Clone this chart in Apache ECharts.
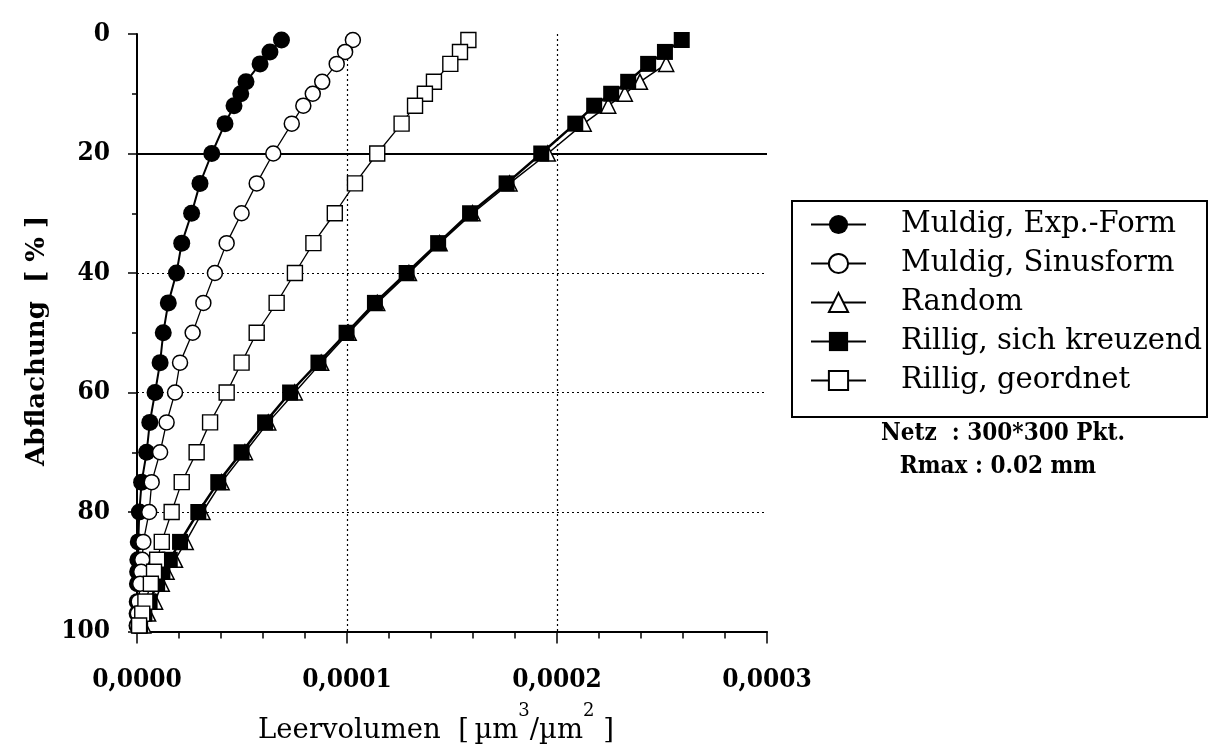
<!DOCTYPE html>
<html>
<head>
<meta charset="utf-8">
<script src="https://cdn.jsdelivr.net/npm/echarts@6/dist/echarts.min.js"></script>
<style>
html,body{margin:0;padding:0;background:#fff;}
#chart{width:1208px;height:750px;}
</style>
</head>
<body>
<div id="chart"></div>
<script>
// Abflachung levels [%]
const levels = [1,3,5,8,10,12,15,20,25,30,35,40,45,50,55,60,65,70,75,80,85,88,90,92,95,97,99];
const randomLevels = [5,8,10,12,15,20,25,30,35,40,45,50,55,60,65,70,75,80,85,88,90,92,95,97,99];
// Leervolumen values in units of 1e-5 um^3/um^2
const UNIT = 1e-5;
const muldigExp   = [6.88,6.33,5.86,5.19,4.94,4.62,4.19,3.56,3.0,2.6,2.13,1.88,1.49,1.25,1.1,0.86,0.61,0.46,0.22,0.11,0.06,0.04,0.03,0.02,0.01,0.005,0];
const muldigSinus = [10.28,9.91,9.51,8.82,8.37,7.92,7.37,6.49,5.7,4.98,4.27,3.71,3.16,2.65,2.05,1.81,1.41,1.1,0.7,0.58,0.3,0.25,0.2,0.15,0.08,0.04,0.01];
const randomVals  = [25.2,23.95,23.23,22.44,21.27,19.56,17.74,15.98,14.41,12.95,11.44,10.08,8.77,7.51,6.25,5.14,4.03,3.12,2.32,1.81,1.41,1.18,0.86,0.53,0.3];
const rilligKreuz = [25.94,25.14,24.34,23.39,22.58,21.77,20.87,19.25,17.6,15.86,14.34,12.84,11.33,9.98,8.64,7.29,6.1,4.98,3.87,2.92,2.05,1.56,1.21,0.96,0.6,0.35,0.15];
const rilligGeord = [15.78,15.38,14.92,14.14,13.71,13.24,12.6,11.44,10.38,9.42,8.4,7.52,6.65,5.7,4.98,4.27,3.48,2.84,2.13,1.65,1.18,0.96,0.81,0.66,0.4,0.25,0.1];

const seriesNames = ['Muldig, Exp.-Form','Muldig, Sinusform','Random','Rillig, sich kreuzend','Rillig, geordnet'];
const xTickLabels = ['0,0000','0,0001','0,0002','0,0003'];
const yTickLabels = ['0','20','40','60','80','100'];
const noteLines = ['Netz  : 300*300 Pkt.','Rmax : 0.02 mm'];

const SERIF = '"DejaVu Serif", "Liberation Serif", serif';
const SERIF_C = '"DejaVu Serif Condensed", "DejaVu Serif", serif';

function pairs(vals, lv){ return vals.map((v,i)=>[v*UNIT, lv[i]]); }

const chart = echarts.init(document.getElementById('chart'), null, {renderer:'canvas'});

const option = {
  animation:false,
  backgroundColor:'#fff',
  grid:{left:137, top:34, right:441, bottom:116, containLabel:false},
  xAxis:{
    type:'value', min:0, max:0.0003, interval:0.0001,
    axisLine:{show:true, onZero:false, lineStyle:{color:'#000', width:2}},
    axisTick:{show:true, length:12, lineStyle:{color:'#000', width:1.5}},
    minorTick:{show:true, splitNumber:5, length:7, lineStyle:{color:'#000', width:1.5}},
    splitLine:{show:true, showMinLine:false, showMaxLine:false, lineStyle:{color:'#000', width:1.2, type:[2,3]}},
    axisLabel:{margin:36, color:'#000', fontFamily:SERIF_C, fontWeight:'bold', fontSize:26,
      formatter:(v)=>xTickLabels[Math.round(v/0.0001)]},
    name:'{m|Leervolumen  [\u2009µm}{s|3}{m|/µm}{s|2}{m| ]}',
    nameLocation:'middle', nameGap:71,
    nameTextStyle:{padding:[0,32,0,0], rich:{
      m:{fontFamily:SERIF, fontSize:27.5, color:'#000', lineHeight:57},
      s:{fontFamily:SERIF, fontSize:18, color:'#000', verticalAlign:'top'}
    }}
  },
  yAxis:{
    type:'value', min:0, max:100, interval:20, inverse:true,
    axisLine:{show:true, onZero:false, lineStyle:{color:'#000', width:2}},
    axisTick:{show:true, length:9, lineStyle:{color:'#000', width:1.5}},
    minorTick:{show:true, splitNumber:2, length:5, lineStyle:{color:'#000', width:1.5}},
    splitLine:{show:true, showMinLine:false, showMaxLine:false, lineStyle:{color:'#000', width:1.2, type:[2,3]}},
    axisLabel:{margin:27, color:'#000', fontFamily:SERIF_C, fontWeight:'bold', fontSize:26,
      formatter:(v)=>yTickLabels[Math.round(v/20)]},
    name:'Abflachung  [ % ]', nameLocation:'middle', nameGap:78,
    nameTextStyle:{fontFamily:SERIF, fontWeight:'bold', fontSize:26, color:'#000', padding:[0,16,0,0]}
  },
  legend:{
    orient:'vertical', left:810, top:210, padding:0, itemGap:10,
    itemWidth:55, itemHeight:24, selectedMode:false,
    textStyle:{fontFamily:SERIF, fontSize:29, color:'#000', padding:[0,0,0,30]},
    data:seriesNames
  },
  graphic:[
    {type:'rect', shape:{x:792, y:201, width:415, height:216}, style:{fill:'none', stroke:'#000', lineWidth:2}, silent:true, z:10},
    {type:'text', style:{text:noteLines[0], x:1003, y:434, align:'center', verticalAlign:'middle', font:'bold 24px '+SERIF_C, fill:'#000'}, silent:true},
    {type:'text', style:{text:noteLines[1], x:998, y:467, align:'center', verticalAlign:'middle', font:'bold 24px '+SERIF_C, fill:'#000'}, silent:true}
  ],
  series:[
    {name:seriesNames[0], type:'line', data:pairs(muldigExp, levels), clip:false,
     symbol:'circle', symbolSize:17, itemStyle:{color:'#000'}, lineStyle:{color:'#000', width:2},
     markLine:{silent:true, z:1, symbol:['none','none'], label:{show:false},
       lineStyle:{color:'#000', type:'solid', width:1.8}, data:[{yAxis:20}], emphasis:{disabled:true}}},
    {name:seriesNames[1], type:'line', data:pairs(muldigSinus, levels), clip:false,
     symbol:'circle', symbolSize:15, itemStyle:{color:'#fff', borderColor:'#000', borderWidth:1.5}, lineStyle:{color:'#000', width:1.3}},
    {name:seriesNames[2], type:'line', data:pairs(randomVals, randomLevels), clip:false, z:3,
     symbol:'triangle', symbolSize:15, itemStyle:{color:'#fff', borderColor:'#000', borderWidth:1.5}, lineStyle:{color:'#000', width:1.5}},
    {name:seriesNames[3], type:'line', data:pairs(rilligKreuz, levels), clip:false,
     symbol:'rect', symbolSize:16, itemStyle:{color:'#000'}, lineStyle:{color:'#000', width:2.5}},
    {name:seriesNames[4], type:'line', data:pairs(rilligGeord, levels), clip:false,
     symbol:'rect', symbolSize:15, itemStyle:{color:'#fff', borderColor:'#000', borderWidth:1.4}, lineStyle:{color:'#000', width:1.3}}
  ]
};
chart.setOption(option);
</script>
</body>
</html>
